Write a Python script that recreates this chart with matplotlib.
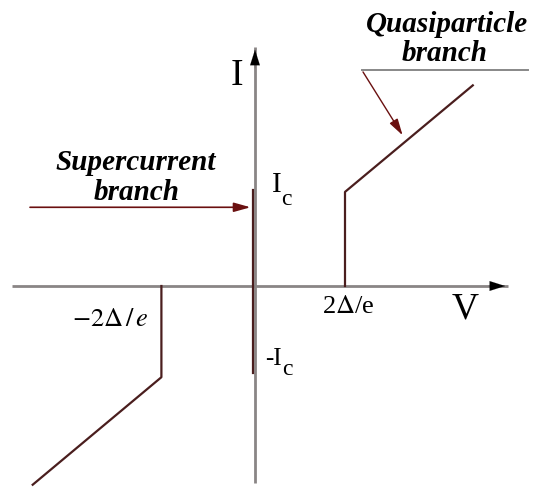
import matplotlib
matplotlib.use("Agg")
import matplotlib.pyplot as plt

plt.rcParams["font.family"] = ["Liberation Serif", "DejaVu Serif"]
plt.rcParams["mathtext.fontset"] = "stix"

#  Voltage in units of 2Delta/e, current in units of Ic
super_v = [-0.02, -0.02]
super_i = [-0.91, 1.0]

quasi_pos_v = [1.0, 1.0, 2.42]
quasi_pos_i = [0.0, 0.98, 2.09]

quasi_neg_v = [-1.04, -1.04, -2.47]
quasi_neg_i = [0.0, -0.95, -2.07]

v_axis = [-2.7, 2.81]
i_axis = [-2.05, 2.49]

branch_col = "#4a1e1e"
arrow_col = "#6a1010"
axis_col = "#8a8585"

fig = plt.figure( figsize = ( 5.37, 4.90 ), dpi = 100 )
ax = fig.add_axes( [0, 0, 1, 1] )
ax.set_xlim( -255 / 90, 282 / 90 )
ax.set_ylim( -204 / 96, 286 / 96 )
ax.axis( "off" )

#  Axes with arrow heads
ax.plot( v_axis, [0, 0], color = axis_col, lw = 2.0, solid_capstyle = "butt", zorder = 1 )
ax.plot( [0, 0], i_axis, color = axis_col, lw = 2.0, solid_capstyle = "butt", zorder = 1 )
ax.annotate( "", xy = ( v_axis[1], 0 ), xytext = ( v_axis[1] - 0.25, 0 ),
  arrowprops = dict( arrowstyle = "-|>,head_length=1.1,head_width=0.35", color = "black", lw = 0.1 ) )
ax.annotate( "", xy = ( 0, i_axis[1] ), xytext = ( 0, i_axis[1] - 0.25 ),
  arrowprops = dict( arrowstyle = "-|>,head_length=1.1,head_width=0.35", color = "black", lw = 0.1 ) )

#  Branches
ax.plot( super_v, super_i, color = branch_col, lw = 1.6, zorder = 2 )
ax.plot( quasi_pos_v, quasi_pos_i, color = branch_col, lw = 1.6, zorder = 2 )
ax.plot( quasi_neg_v, quasi_neg_i, color = branch_col, lw = 1.6, zorder = 2 )

#  Axis labels and ticks
ax.text( -0.2, 2.19, "I", fontsize = 27, ha = "center", va = "center" )
ax.text( 2.33, -0.24, "V", fontsize = 27, ha = "center", va = "center" )
ax.text( 0.244, 1.05, "I", fontsize = 21, ha = "center", va = "center" )
ax.text( 0.35, 0.9, "c", fontsize = 17, ha = "center", va = "center" )
ax.text( 0.21, -0.76, "-I", fontsize = 18, ha = "center", va = "center" )
ax.text( 0.36, -0.87, "c", fontsize = 17, ha = "center", va = "center" )
ax.text( 1.04, -0.22, r"2$\Delta$/e", fontsize = 19, ha = "center", va = "center" )
ax.text( -1.61, -0.35, r"$-2\Delta\,/\,e$", fontsize = 19, ha = "center", va = "center" )

#  Supercurrent annotation
ax.text( -1.32, 1.29, "Supercurrent", fontsize = 21, style = "italic", weight = "bold", ha = "center", va = "center" )
ax.text( -1.31, 0.97, "branch", fontsize = 21, style = "italic", weight = "bold", ha = "center", va = "center" )
ax.annotate( "", xy = ( -0.05, 0.82 ), xytext = ( -2.5, 0.82 ),
  arrowprops = dict( arrowstyle = "-|>,head_length=1.0,head_width=0.28", color = arrow_col, lw = 1.2, shrinkA = 0, shrinkB = 0 ) )

#  Quasiparticle annotation
ax.text( 2.13, 2.72, "Quasiparticle", fontsize = 21, style = "italic", weight = "bold", ha = "center", va = "center" )
ax.text( 2.11, 2.42, "branch", fontsize = 21, style = "italic", weight = "bold", ha = "center", va = "center" )
ax.plot( [1.19, 3.03], [2.25, 2.25], color = "#888888", lw = 1.4 )
ax.annotate( "", xy = ( 1.64, 1.57 ), xytext = ( 1.2, 2.23 ),
  arrowprops = dict( arrowstyle = "-|>,head_length=1.0,head_width=0.28", color = arrow_col, lw = 1.0, shrinkA = 0, shrinkB = 0 ) )

fig.savefig( "out.png", dpi = 100 )
